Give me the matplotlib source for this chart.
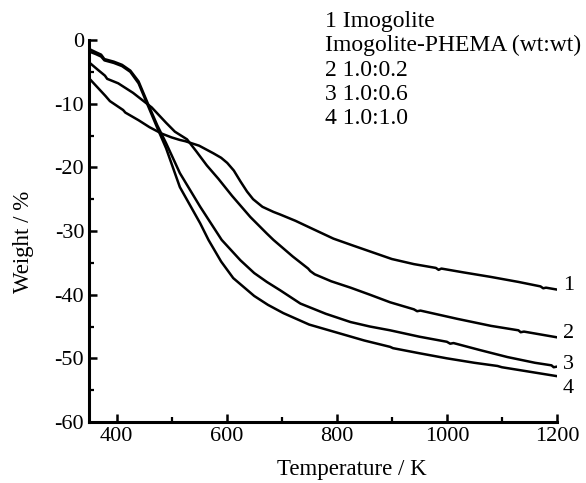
import numpy as np
import matplotlib
matplotlib.use('Agg')
import matplotlib.pyplot as plt
from matplotlib.ticker import MultipleLocator

plt.rcParams['font.family'] = ['Liberation Serif', 'DejaVu Serif']
plt.rcParams['axes.unicode_minus'] = False

# curve 1 - Imogolite
t1 = [350, 365, 380, 388, 400, 412, 416, 440, 460, 482, 500, 515, 525, 550, 576, 590, 601,
      613, 625, 637, 648, 665, 685, 697, 725, 752, 794, 830, 870, 900, 940, 980, 985, 990,
      1030, 1079, 1130, 1170, 1175, 1180, 1200]
w1 = [-6.0, -7.4, -8.8, -9.6, -10.3, -11.0, -11.4, -12.6, -13.7, -14.7, -15.3, -15.7, -15.9,
      -16.6, -17.8, -18.5, -19.3, -20.5, -22.2, -23.8, -25.0, -26.2, -27.0, -27.4, -28.4,
      -29.5, -31.2, -32.3, -33.5, -34.4, -35.2, -35.8, -36.1, -35.9, -36.5, -37.2, -38.0,
      -38.7, -39.0, -38.9, -39.2]

# curve 2 - 1.0:0.2
t2 = [350, 365, 379, 383, 403, 430, 464, 490, 506, 528, 545, 564, 585, 610, 643, 673, 685,
      720, 748, 752, 760, 790, 825, 860, 897, 940, 946, 952, 1019, 1080, 1130, 1134, 1140, 1200]
w2 = [-3.5, -4.6, -5.6, -6.1, -6.8, -8.3, -10.6, -13.0, -14.4, -15.6, -17.5, -19.7, -21.8,
      -24.5, -27.8, -30.4, -31.4, -34.0, -35.9, -36.3, -36.8, -37.9, -38.9, -40.0, -41.2,
      -42.3, -42.6, -42.5, -43.8, -44.9, -45.6, -45.9, -45.8, -46.7]

# curve 3 - 1.0:0.6
t3 = [350, 362, 372, 378, 395, 410, 425, 440, 457, 474, 490, 515, 552, 591, 625, 650, 673, 697,
      734, 780, 825, 860, 897, 950, 1000, 1006, 1012, 1060, 1110, 1160, 1190, 1194, 1200]
w3 = [-1.4, -1.9, -2.3, -3.0, -3.4, -3.9, -4.8, -6.5, -10.0, -13.4, -16.2, -20.9, -26.2, -31.4,
      -34.6, -36.6, -38.0, -39.3, -41.4, -43.0, -44.3, -45.0, -45.6, -46.6, -47.4, -47.7,
      -47.6, -48.7, -49.8, -50.7, -51.1, -51.4, -51.3]

# curve 4 - 1.0:1.0
t4 = [350, 362, 372, 378, 395, 410, 425, 440, 457, 474, 490, 515, 552, 567, 590, 612, 650, 675,
      703, 750, 806, 850, 897, 902, 950, 1000, 1050, 1092, 1100, 1150, 1200]
w4 = [-1.8, -2.2, -2.6, -3.2, -3.6, -4.1, -5.0, -6.8, -10.3, -13.8, -17.0, -23.1, -28.8, -31.4,
      -34.8, -37.4, -40.2, -41.6, -42.9, -44.7, -46.1, -47.2, -48.2, -48.4, -49.2, -50.0,
      -50.7, -51.2, -51.4, -52.1, -52.8]

curve_labels = ['1', '2', '3', '4']
label_y = [-38.5, -46.1, -50.9, -54.7]
legend_lines = ['1 Imogolite', 'Imogolite-PHEMA (wt:wt)', '2 1.0:0.2', '3 1.0:0.6', '4 1.0:1.0']

fig = plt.figure(figsize=(5.86, 4.83), dpi=100)
ax = fig.add_axes([89/586, 61/483, 468/586, 382/483])

for t, w in [(t1, w1), (t2, w2), (t3, w3), (t4, w4)]:
    ax.plot(t, w, color='black', lw=1.8, solid_joinstyle='round')

for lab, y in zip(curve_labels, label_y):
    ax.text(1221, y, lab, ha='center', va='center', fontsize=16)

ax.set_xlim(350, 1200)
ax.set_ylim(-60, 0)
ax.xaxis.set_major_locator(MultipleLocator(200))
ax.xaxis.set_minor_locator(MultipleLocator(100))
ax.yaxis.set_major_locator(MultipleLocator(10))
ax.yaxis.set_minor_locator(MultipleLocator(5))
ax.set_xticks([400, 600, 800, 1000, 1200])

ax.spines['top'].set_visible(False)
ax.spines['right'].set_visible(False)
for s in ['left', 'bottom']:
    ax.spines[s].set_linewidth(2.2)
ax.tick_params(which='major', direction='in', length=6, width=1.8, labelsize=16, pad=3.5)
ax.tick_params(which='minor', direction='in', length=3.6, width=1.6)

fig.text(23/586, 1 - 242/483, 'Weight / %', rotation=90, ha='center', va='center', fontsize=16.5)
fig.text(352/586, 1 - 470/483, 'Temperature / K', ha='center', va='center', fontsize=16.5)
fig.text(325/586, 1 - 11/483, '\n'.join(legend_lines), ha='left', va='top',
         fontsize=17, linespacing=1.2)

fig.savefig('out.png', dpi=100)
